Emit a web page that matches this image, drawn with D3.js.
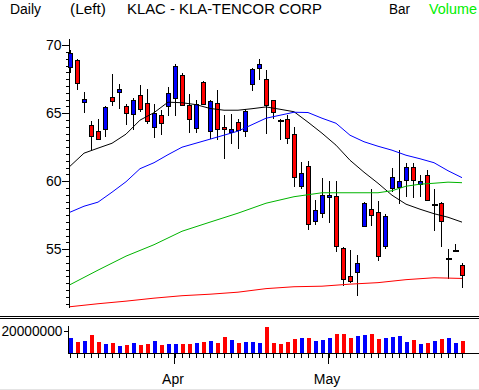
<!DOCTYPE html>
<html>
<head>
<meta charset="utf-8">
<script src="https://cdn.jsdelivr.net/npm/d3@7"></script>
<style>
  body { margin: 0; background: #fff; }
  svg { display: block; }
  text { font-family: "Liberation Sans", Arial, sans-serif; }
</style>
</head>
<body>
<svg></svg>
<script>
// daily bars (index 0 = first bar on the left)
var opens  = [68.36,68.90,65.83,64.10,63.68,63.80,66.18,66.52,65.51,64.90,66.32,65.74,64.02,64.90,65.49,66.08,67.84,65.59,63.92,67.28,
              63.75,65.74,64.02,63.58,64.34,63.73,67.16,68.29,67.55,65.96,64.50,64.61,63.50,59.65,61.10,57.01,57.67,58.80,58.90,55.12,
              53.01,53.29,56.71,57.99,57.70,55.24,59.54,59.58,60.07,61.05,59.76,60.44,58.35,58.43,54.35,54.97,53.82];
var highs  = [69.65,68.95,66.57,64.43,64.60,65.50,67.87,67.13,65.71,66.15,67.06,66.81,65.71,65.27,66.89,68.65,67.92,66.40,65.96,67.38,
              65.96,66.69,64.90,64.93,64.54,65.34,68.30,69.02,68.16,66.00,64.61,64.85,64.00,61.42,61.47,58.65,60.27,60.00,60.00,55.15,
              54.93,54.56,58.50,59.46,58.53,57.62,60.98,62.28,61.35,61.35,60.44,60.86,59.41,58.50,55.00,55.37,53.99];
var lows   = [67.92,66.70,64.98,62.30,63.00,63.26,65.50,65.29,64.14,63.80,65.10,64.24,63.21,63.43,64.78,64.83,65.51,63.58,63.58,65.57,
              63.11,63.01,61.60,62.77,62.40,63.26,66.64,67.43,63.46,64.61,63.01,62.77,59.54,59.41,56.40,56.76,57.30,56.93,54.80,52.30,
              52.52,51.57,56.64,56.71,54.14,55.02,59.21,58.29,58.85,58.80,58.85,58.55,56.35,55.17,52.84,54.80,52.18];
var closes = [69.39,67.23,66.08,63.30,63.11,65.44,65.86,66.76,64.98,65.96,65.27,64.39,65.05,64.32,66.47,68.46,65.66,64.58,65.71,65.66,
              65.93,63.80,63.85,63.82,63.75,65.17,68.24,68.60,65.66,65.07,64.48,63.21,60.32,60.57,56.82,57.85,58.97,58.97,55.24,52.84,
              52.67,53.95,58.43,57.55,54.46,57.43,60.32,60.00,61.05,60.12,60.00,58.60,58.37,57.08,54.37,54.99,53.06];
var volumes = [13.5,9.9,10.8,16.4,9.9,8.3,9.0,6.5,7.4,9.0,7.4,8.3,10.8,7.4,8.3,8.3,8.3,8.3,9.0,9.9,
               10.8,9.0,14.4,11.7,9.0,9.9,9.9,9.0,23.6,9.0,8.1,9.9,12.6,13.5,13.5,10.8,11.7,13.5,17.0,17.0,
               13.5,15.2,16.1,17.0,12.6,13.5,14.4,15.2,9.9,11.7,8.1,9.0,10.8,12.6,13.5,9.0,10.8].map(function(v) { return v * 1e6; });

// moving averages, [bar index, value]
var maShort = [[0,61.10],[2,62.06],[4,62.43],[6,62.79],[8,63.46],[10,64.49],[12,65.04],[14,65.81],[16,65.77],[18,65.63],
               [20,65.35],[22,65.22],[24,65.22],[26,65.33],[28,65.46],[30,65.29],[32,65.11],[34,64.34],[36,63.53],[38,62.65],
               [40,61.54],[42,60.66],[44,59.85],[46,58.97],[48,58.31],[50,57.94],[52,57.61],[54,57.35],[56,56.99]];
var maMid   = [[0,57.72],[2,58.16],[4,58.46],[6,59.19],[8,59.96],[10,60.92],[12,61.36],[14,61.95],[16,62.50],[20,63.09],
               [24,63.68],[28,64.63],[32,65.07],[34,65.05],[36,64.63],[38,64.26],[40,63.38],[42,62.90],[44,62.57],[46,62.28],
               [48,61.91],[50,61.65],[52,61.36],[54,60.77],[56,60.26]];
var maLong  = [[0,52.39],[4,53.46],[8,54.49],[12,55.33],[16,56.32],[20,56.99],[24,57.65],[28,58.38],[32,58.86],[36,59.15],
               [40,59.15],[44,59.15],[46,59.30],[48,59.63],[50,59.78],[52,59.85],[54,59.93],[56,59.89]];
var ma200   = [[0,50.77],[4,50.99],[8,51.18],[12,51.40],[16,51.58],[20,51.69],[24,51.84],[28,52.10],[32,52.24],[36,52.28],
               [40,52.43],[44,52.54],[48,52.76],[52,52.90],[56,52.85]];

var priceLabels = [55, 60, 65, 70];
var monthStarts = [{label: "Apr", index: 15}, {label: "May", index: 37}];

var width = 479, height = 390;
var svg = d3.select("svg").attr("width", width).attr("height", height)
  .attr("shape-rendering", "crispEdges");

var x = d3.scaleLinear().domain([0, opens.length - 1]).range([70, 462]);
var y = d3.scaleLinear().domain([50.75, 70.5]).range([307, 38.4]);
var yv = d3.scaleLinear().domain([0, 20000000]).range([353, 331]);

// header
var header = [
  {t: "Daily", x: 10, w: 31, c: "#000"},
  {t: "(Left)", x: 70, w: 36, c: "#000"},
  {t: "KLAC - KLA-TENCOR CORP", x: 127, w: 195, c: "#000"},
  {t: "Bar", x: 389, w: 21, c: "#000"},
  {t: "Volume", x: 429, w: 48, c: "#00ee00"}
];
svg.selectAll(".hdr").data(header).enter().append("text")
  .attr("x", function(d) { return d.x; })
  .attr("y", 14)
  .attr("textLength", function(d) { return d.w; })
  .attr("lengthAdjust", "spacingAndGlyphs")
  .style("font-size", "14px")
  .attr("fill", function(d) { return d.c; })
  .text(function(d) { return d.t; });

// price axis: minor ticks every 0.5, labels on whole fives
var minor = d3.range(51, 70.5, 0.5);
svg.append("g").attr("transform", "translate(68.5,0)")
  .call(d3.axisLeft(y).tickValues(minor).tickSize(3).tickSizeOuter(0).tickFormat(""))
  .call(function(g) { g.selectAll("path,line").attr("stroke", "#000"); });
svg.append("g").attr("transform", "translate(68.5,0)")
  .call(d3.axisLeft(y).tickValues(priceLabels).tickSize(7).tickPadding(0).tickFormat(d3.format("d")))
  .call(function(g) {
    g.select(".domain").remove();
    g.selectAll("line").attr("stroke", "#000");
    g.selectAll("text").style("font-size", "14px").attr("font-family", "Liberation Sans, Arial, sans-serif").attr("fill", "#000");
  });

// candles
var bars = svg.append("g");
opens.forEach(function(o, i) {
  var cx = x(i) + 0.5, c = closes[i];
  bars.append("line")
    .attr("x1", cx).attr("x2", cx)
    .attr("y1", y(highs[i])).attr("y2", y(lows[i]))
    .attr("stroke", "#000");
  if (Math.abs(c - o) < 0.05) {
    bars.append("line")
      .attr("x1", cx - 3).attr("x2", cx + 3)
      .attr("y1", Math.round(y(o)) + 0.5).attr("y2", Math.round(y(o)) + 0.5)
      .attr("stroke", "#000").attr("stroke-width", 2);
  } else {
    bars.append("rect")
      .attr("x", cx - 2).attr("width", 4)
      .attr("y", Math.round(y(Math.max(o, c))) + 0.5)
      .attr("height", Math.round(Math.abs(y(o) - y(c))))
      .attr("fill", c > o ? "#0000ff" : "#ff0000")
      .attr("stroke", "#000");
  }
});

// moving averages
var line = d3.line().x(function(d) { return x(d[0]); }).y(function(d) { return y(d[1]); });
var mas = [[maShort, "#000"], [maMid, "#0000ff"], [maLong, "#00b400"], [ma200, "#ff0000"]];
mas.forEach(function(m) {
  svg.append("path").datum(m[0])
    .attr("d", line)
    .attr("fill", "none")
    .attr("stroke", m[1])
    .attr("stroke-width", 1)
    .attr("shape-rendering", "auto");
});

// double separator
[316.5, 318.5].forEach(function(yy) {
  svg.append("line").attr("x1", 0).attr("x2", width).attr("y1", yy).attr("y2", yy).attr("stroke", "#000");
});

// volume
svg.append("g").selectAll("rect").data(volumes).enter().append("rect")
  .attr("x", function(d, i) { return x(i) - 1.5; })
  .attr("width", 4)
  .attr("y", function(d) { return Math.round(yv(d)); })
  .attr("height", function(d) { return 353 - Math.round(yv(d)); })
  .attr("fill", function(d, i) { return closes[i] >= opens[i] ? "#0000ff" : "#ff0000"; });

svg.append("g").attr("transform", "translate(68.5,0)")
  .call(d3.axisLeft(yv).tickValues([20000000]).tickSize(5).tickPadding(1).tickFormat(d3.format("d")))
  .call(function(g) {
    g.select(".domain").attr("d", "M0,326V353").attr("stroke", "#000");
    g.selectAll("line").attr("stroke", "#000");
    g.selectAll("text").style("font-size", "14px").attr("font-family", "Liberation Sans, Arial, sans-serif")
      .attr("fill", "#000").attr("textLength", 61).attr("lengthAdjust", "spacingAndGlyphs");
  });

// time axis
svg.append("line").attr("x1", 68).attr("x2", width).attr("y1", 353.5).attr("y2", 353.5).attr("stroke", "#000");
svg.append("g").selectAll("line").data(d3.range(opens.length)).enter().append("line")
  .attr("x1", function(i) { return x(i) + 0.5; })
  .attr("x2", function(i) { return x(i) + 0.5; })
  .attr("y1", 353).attr("y2", 358)
  .attr("stroke", "#000");
svg.append("g").selectAll("line").data(monthStarts).enter().append("line")
  .attr("x1", function(d) { return x(d.index) - 0.5; })
  .attr("x2", function(d) { return x(d.index) - 0.5; })
  .attr("y1", 353).attr("y2", 364)
  .attr("stroke", "#000");
svg.append("g").selectAll("text").data(monthStarts).enter().append("text")
  .attr("x", function(d) { return x(d.index) - 2; })
  .attr("y", 384)
  .attr("text-anchor", "middle")
  .style("font-size", "14px")
  .text(function(d) { return d.label; });

svg.append("line").attr("x1", 0).attr("x2", width).attr("y1", 389.5).attr("y2", 389.5).attr("stroke", "#e4e4e4");
</script>
</body>
</html>
